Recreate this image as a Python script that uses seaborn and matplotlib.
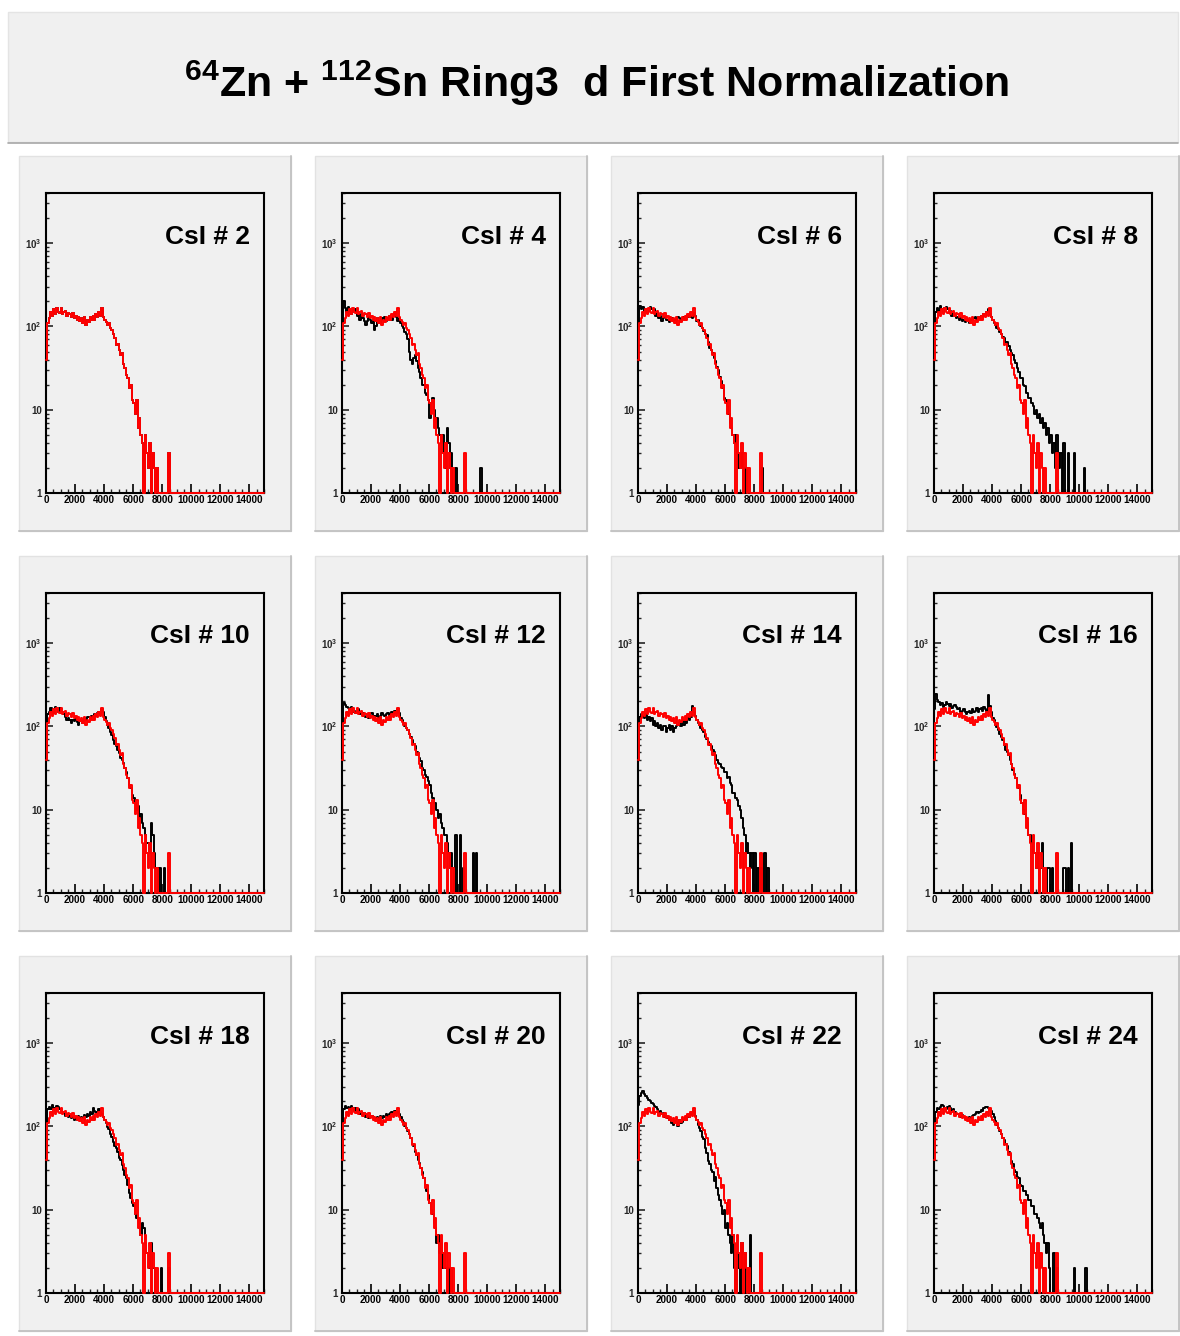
import numpy as np
import pandas as pd
import matplotlib
matplotlib.use("Agg")
import matplotlib.pyplot as plt
import seaborn as sns
from matplotlib.patches import Rectangle
from matplotlib.ticker import FixedLocator, MultipleLocator, LogLocator, NullFormatter, FixedFormatter

# ---------------- data (counts per 100-channel bin, starting at channel 0) ----------------
BIN_WIDTH = 100
X_MAX = 15000
detectors = [2, 4, 6, 8, 10, 12, 14, 16, 18, 20, 22, 24]

# red: reference detector CsI #2 (overlaid in every panel)
red_ref = [40, 110, 125, 150, 135, 160, 140, 165, 150, 145, 165, 140, 150, 155, 135, 145, 140, 130, 145, 125,
           135, 120, 128, 115, 125, 110, 130, 105, 120, 112, 128, 118, 135, 120, 140, 128, 150, 135, 165, 130,
           120, 112, 105, 110, 95, 90, 80, 72, 60, 62, 52, 45, 48, 35, 32, 26, 24, 18, 20, 13,
           12, 9, 13, 6, 8, 5, 4, 0, 5, 3, 2, 4, 0, 3, 2, 0, 2, 0, 0, 0, 0, 0, 0, 0, 3]

black_02 = [40, 110, 125, 150, 135, 160, 140, 165, 150, 145, 165, 140, 150, 155, 135, 145, 140, 130, 145, 125,
            135, 120, 128, 115, 125, 110, 130, 105, 120, 112, 128, 118, 135, 120, 140, 128, 150, 135, 165, 130,
            120, 112, 105, 110, 95, 90, 80, 72, 60, 62, 52, 45, 48, 35, 32, 26, 24, 18, 20, 13,
            12, 9, 13, 6, 8, 5, 4, 0, 5, 3, 2, 4, 0, 3, 2, 0, 2, 0, 0, 0, 0, 0, 0, 0, 3]
black_04 = [60, 200, 165, 150, 170, 155, 140, 160, 150, 160, 135, 145, 120, 140, 125, 115, 105, 115, 130, 120,
            110, 120, 90, 100, 125, 115, 110, 125, 120, 130, 115, 125, 135, 125, 120, 135, 140, 130, 115, 125,
            110, 100, 95, 85, 80, 70, 50, 40, 35, 42, 45, 38, 32, 28, 24, 20, 20, 16, 15, 13,
            8, 12, 14, 10, 7, 8, 6, 5, 4, 5, 3, 2, 6, 4, 2, 3, 0, 0, 2, 0,
            0, 0, 0, 0, 0, 0, 0, 0, 0, 0, 0, 0, 0, 0, 0, 2]
black_06 = [70, 175, 160, 170, 150, 160, 145, 155, 170, 160, 150, 160, 135, 145, 125, 135, 115, 125, 130, 120,
            120, 112, 118, 125, 115, 120, 118, 128, 125, 115, 122, 130, 120, 135, 128, 140, 130, 125, 145, 135,
            115, 120, 105, 100, 95, 88, 80, 78, 65, 55, 52, 48, 42, 38, 33, 30, 25, 22, 18, 14,
            13, 11, 9, 7, 6, 5, 4, 5, 3, 2, 2, 3, 0, 2, 0, 0, 0, 0, 0, 0,
            0, 0, 0, 0, 0, 2]
black_08 = [60, 150, 165, 155, 175, 160, 150, 165, 170, 160, 145, 155, 135, 145, 140, 125, 130, 120, 125, 115,
            118, 112, 125, 120, 110, 118, 120, 125, 128, 120, 130, 125, 135, 128, 140, 135, 150, 160, 140, 130,
            120, 110, 105, 95, 92, 85, 80, 75, 72, 65, 65, 58, 52, 48, 45, 40, 36, 32, 28, 24,
            24, 20, 19, 16, 16, 14, 14, 12, 11, 9, 10, 8, 9, 7, 8, 6, 7, 5, 6, 4,
            5, 3, 4, 2, 5, 3, 2, 3, 0, 4, 0, 0, 3, 0, 0, 0, 3, 0, 0, 0,
            0, 0, 0, 2]
black_10 = [40, 140, 150, 165, 150, 145, 170, 160, 150, 165, 145, 150, 140, 130, 120, 125, 118, 110, 120, 115,
            125, 112, 105, 115, 118, 110, 125, 120, 130, 128, 122, 135, 130, 140, 135, 145, 150, 140, 160, 150,
            130, 115, 105, 95, 85, 78, 68, 62, 58, 52, 48, 42, 40, 36, 32, 28, 24, 20, 18, 15,
            14, 12, 10, 11, 8, 9, 7, 6, 5, 4, 4, 3, 7, 5, 3, 2, 2, 0, 2, 0,
            0, 2]
black_12 = [80, 190, 180, 170, 165, 160, 170, 150, 155, 145, 150, 160, 140, 150, 145, 135, 130, 140, 125, 140,
            145, 135, 125, 135, 140, 130, 135, 145, 138, 132, 140, 145, 135, 140, 150, 140, 155, 145, 160, 145,
            125, 118, 110, 100, 95, 90, 82, 75, 68, 62, 58, 50, 48, 42, 38, 32, 30, 26, 25, 22,
            20, 16, 14, 12, 12, 10, 8, 9, 7, 6, 5, 5, 4, 3, 2, 3, 2, 0, 5, 0,
            0, 5, 0, 2, 0, 0, 0, 0, 0, 0, 3, 0, 3]
black_14 = [50, 130, 140, 135, 125, 140, 120, 130, 115, 125, 105, 115, 100, 110, 95, 105, 90, 100, 100, 85,
            95, 105, 90, 100, 85, 95, 100, 105, 110, 100, 115, 105, 120, 110, 125, 120, 130, 175, 150, 135,
            120, 110, 105, 95, 90, 85, 75, 70, 65, 60, 58, 52, 50, 46, 40, 36, 35, 33, 32, 28,
            28, 24, 25, 21, 20, 16, 16, 14, 13, 11, 10, 8, 6, 5, 3, 4, 3, 2, 3, 0,
            3, 0, 2, 0, 2, 0, 0, 3, 0, 2]
black_16 = [160, 245, 210, 195, 180, 190, 170, 180, 195, 185, 175, 185, 165, 175, 180, 170, 160, 165, 150, 155,
            160, 150, 140, 150, 155, 145, 160, 150, 155, 165, 150, 160, 165, 155, 170, 160, 155, 240, 175, 150,
            125, 120, 105, 98, 90, 82, 75, 68, 60, 52, 50, 45, 40, 35, 30, 27, 24, 20, 18, 15,
            12, 10, 9, 8, 7, 5, 5, 4, 3, 3, 2, 3, 0, 2, 4, 0, 0, 0, 2, 2,
            0, 2, 0, 0, 0, 0, 0, 0, 0, 2, 2, 0, 2, 0, 4]
black_18 = [50, 160, 170, 160, 180, 165, 155, 175, 170, 160, 155, 145, 150, 135, 140, 130, 132, 125, 128, 120,
            125, 120, 132, 125, 130, 125, 138, 130, 140, 135, 150, 140, 165, 155, 150, 145, 160, 150, 140, 130,
            120, 110, 98, 92, 80, 75, 65, 58, 55, 50, 42, 40, 34, 30, 26, 24, 20, 16, 14, 12,
            11, 9, 8, 8, 6, 5, 7, 6, 4, 3, 3, 2, 4, 2, 2, 0, 0, 0, 0, 2,
            0, 0, 0, 0, 2]
black_20 = [60, 160, 175, 165, 170, 160, 175, 165, 155, 165, 150, 160, 140, 150, 138, 145, 128, 132, 125, 130,
            132, 128, 118, 125, 128, 120, 132, 125, 135, 128, 142, 135, 140, 145, 150, 140, 155, 145, 150, 140,
            130, 120, 112, 102, 95, 88, 80, 72, 62, 58, 50, 46, 40, 36, 32, 28, 24, 20, 17, 15,
            12, 10, 9, 7, 6, 4, 5, 3, 4, 2, 3, 2, 0, 2, 0, 2]
black_22 = [180, 230, 250, 270, 245, 235, 220, 210, 200, 190, 185, 175, 170, 160, 150, 155, 140, 145, 130, 135,
            125, 118, 120, 110, 105, 115, 112, 100, 118, 110, 112, 120, 125, 118, 130, 128, 140, 145, 155, 135,
            120, 105, 95, 88, 75, 70, 55, 48, 38, 35, 30, 28, 22, 25, 18, 15, 13, 11, 9, 10,
            6, 7, 5, 4, 3, 5, 2, 0, 3, 2, 0, 4, 2, 3, 0, 2, 0, 5]
black_24 = [55, 150, 165, 160, 170, 180, 175, 165, 160, 170, 175, 165, 155, 160, 150, 140, 142, 135, 130, 138,
            128, 122, 120, 125, 130, 125, 132, 138, 140, 148, 145, 150, 158, 155, 165, 172, 170, 165, 160, 155,
            140, 128, 115, 105, 95, 88, 80, 72, 68, 62, 58, 50, 45, 38, 35, 30, 28, 25, 24, 20,
            19, 17, 17, 15, 15, 13, 13, 11, 11, 9, 9, 8, 7, 6, 7, 5, 4, 3, 4, 2,
            0, 0, 3, 0, 2, 0, 0, 0, 0, 0, 0, 0, 0, 0, 0, 0, 2, 0, 0, 0,
            0, 0, 0, 0, 2]

black_series = [black_02, black_04, black_06, black_08, black_10, black_12,
                black_14, black_16, black_18, black_20, black_22, black_24]

x_tick_values = [0, 2000, 4000, 6000, 8000, 10000, 12000, 14000]
x_tick_labels = ["0", "2000", "4000", "6000", "8000", "10000", "12000", "14000"]
y_tick_values = [1, 10, 100, 1000]
y_tick_labels = ["1", "10", r"$10^{2}$", r"$10^{3}$"]

title_text = r"$^{64}$Zn + $^{112}$Sn Ring3  d First Normalization"

# ---------------- build tidy table ----------------
edges = np.arange(0, X_MAX + BIN_WIDTH, BIN_WIDTH)
centers = edges[:-1] + BIN_WIDTH / 2
n_bins = len(centers)


def padded(values):
    out = np.zeros(n_bins)
    out[:len(values)] = values
    return out


rows = []
for det, blk in zip(detectors, black_series):
    for series, vals in (("black", blk), ("red", red_ref)):
        v = padded(vals)
        for c, cnt in zip(centers, v):
            rows.append({"det": det, "series": series, "adc": c, "counts": cnt})
df = pd.DataFrame(rows)
# ROOT draws empty bins on the bottom of the log frame (y = 1)
df["shown"] = df["counts"].clip(lower=1.0)

# ---------------- style ----------------
sns.set_theme(style="white")
FONT = ["Liberation Sans", "DejaVu Sans"]
plt.rcParams["font.family"] = FONT
plt.rcParams["font.weight"] = "bold"
plt.rcParams["mathtext.fontset"] = "custom"
plt.rcParams["mathtext.rm"] = "Liberation Sans:bold"
plt.rcParams["mathtext.it"] = "Liberation Sans:bold"
plt.rcParams["mathtext.bf"] = "Liberation Sans:bold"
plt.rcParams["mathtext.default"] = "rm"

W, H = 1180, 1336
fig = plt.figure(figsize=(W / 100, H / 100), dpi=100, facecolor="white")

PAD_COLOR = "#f0f0f0"


def fig_rect(x, y, w, h):
    return (x / W, 1 - (y + h) / H, w / W, h / H)


# title pad
tx, ty, tw, th = fig_rect(8, 12, 1170, 130)
fig.patches.append(Rectangle((tx, ty), tw, th, transform=fig.transFigure,
                             facecolor=PAD_COLOR, edgecolor="#e4e4e4", lw=1.0, zorder=-2))
fig.lines.append(plt.Line2D([8 / W, 1178 / W], [1 - 142.5 / H, 1 - 142.5 / H],
                            transform=fig.transFigure, color="#a8a8a8", lw=1.2, zorder=-1))
fig.text(597 / W, 1 - 97 / H, title_text, ha="center", va="baseline",
         fontsize=31, fontweight="bold", color="black")

PAD_X0, PAD_Y0, PAD_DX, PAD_DY, PAD_W, PAD_H = 19, 156, 296, 400, 272, 375
FR_DX, FR_DY, FR_W, FR_H = 27, 37, 218, 300

for idx, det in enumerate(detectors):
    r, c = divmod(idx, 4)
    px = PAD_X0 + c * PAD_DX
    py = PAD_Y0 + r * PAD_DY
    # pad with bevelled border
    bx, by, bw, bh = fig_rect(px, py, PAD_W, PAD_H)
    fig.patches.append(Rectangle((bx, by), bw, bh, transform=fig.transFigure,
                                 facecolor=PAD_COLOR, edgecolor="#e2e2e2", lw=1.0, zorder=-2))
    fig.lines.append(plt.Line2D([(px + PAD_W) / W, (px + PAD_W) / W],
                                [1 - (py + PAD_H) / H, 1 - py / H],
                                transform=fig.transFigure, color="#c4c4c4", lw=1.4, zorder=-1))
    fig.lines.append(plt.Line2D([px / W, (px + PAD_W) / W],
                                [1 - (py + PAD_H) / H, 1 - (py + PAD_H) / H],
                                transform=fig.transFigure, color="#c4c4c4", lw=1.4, zorder=-1))

    ax = fig.add_axes(fig_rect(px + FR_DX, py + FR_DY, FR_W, FR_H))
    ax.set_facecolor(PAD_COLOR)
    ax.set_yscale("log")
    sub = df[df["det"] == det]
    for series, col in (("black", "black"), ("red", "#ff0000")):
        s = sub[sub["series"] == series]
        sns.histplot(data=s, x="adc", weights="shown", binwidth=BIN_WIDTH, binrange=(0, X_MAX),
                     element="step", fill=False, color=col, linewidth=1.4, ax=ax, zorder=3)
    for ln in ax.lines:
        ln.set_clip_on(False)
    ax.set_xlim(0, X_MAX)
    ax.set_ylim(1, 4000)
    ax.set_xlabel("")
    ax.set_ylabel("")

    for sp in ax.spines.values():
        sp.set_linewidth(1.5)
        sp.set_color("black")
        sp.set_zorder(2)

    ax.xaxis.set_major_locator(FixedLocator(x_tick_values))
    ax.xaxis.set_major_formatter(FixedFormatter(x_tick_labels))
    ax.xaxis.set_minor_locator(MultipleLocator(500))
    ax.yaxis.set_major_locator(FixedLocator(y_tick_values))
    ax.yaxis.set_major_formatter(FixedFormatter(y_tick_labels))
    ax.yaxis.set_minor_locator(LogLocator(base=10, subs=np.arange(2, 10)))
    ax.yaxis.set_minor_formatter(NullFormatter())

    ax.tick_params(axis="x", which="major", direction="in", length=6.5, width=1.2,
                   labelsize=7.1, pad=1.5, bottom=True, top=False, colors="black")
    ax.tick_params(axis="x", which="minor", direction="in", length=3.2, width=1.0,
                   bottom=True, top=False)
    ax.tick_params(axis="y", which="major", direction="in", length=5, width=1.2,
                   labelsize=7, pad=3, left=True, right=False)
    ax.tick_params(axis="y", which="minor", direction="in", length=2.5, width=1.0,
                   left=True, right=False)
    for lab in ax.get_xticklabels() + ax.get_yticklabels():
        lab.set_fontweight("bold")

    ax.text(0.936, 0.895, f"CsI # {det}", transform=ax.transAxes, ha="right", va="top",
            fontsize=19, fontweight="bold", color="black")

fig.savefig("out.png", dpi=100, facecolor="white")
